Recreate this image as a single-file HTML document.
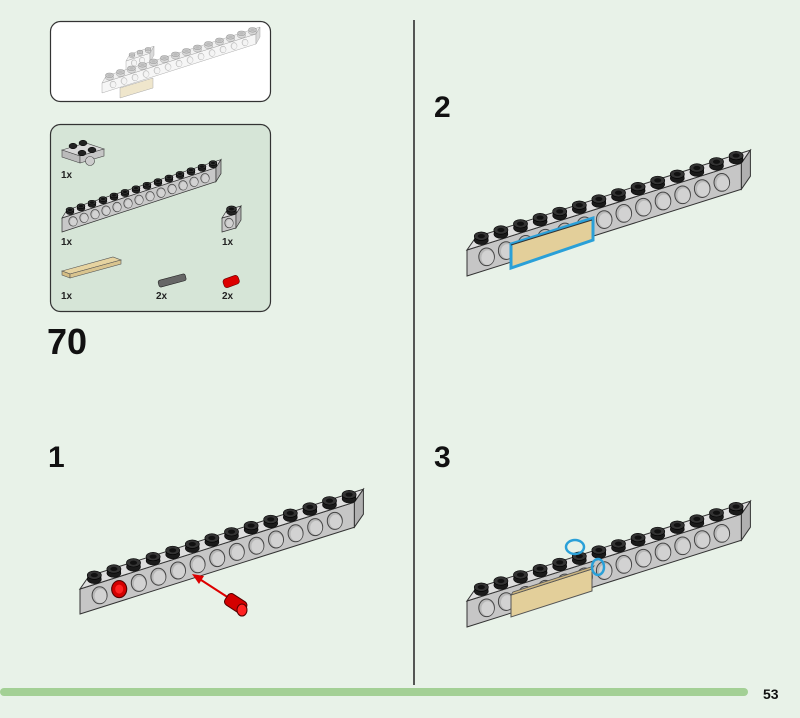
<!DOCTYPE html>
<html><head><meta charset="utf-8"><style>
body{margin:0;width:800px;height:718px;background:#e8f2e8;overflow:hidden;font-family:"Liberation Sans",sans-serif}
svg{position:absolute;left:0;top:0}
</style></head><body>
<svg id="s" width="800" height="718" viewBox="0 0 800 718" xmlns="http://www.w3.org/2000/svg">
<rect x="50.5" y="21.5" width="220" height="80" rx="10" fill="#fff" stroke="#333" stroke-width="1.2"/>
<rect x="50.5" y="124.5" width="220" height="187" rx="10" fill="#d6e5d7" stroke="#333" stroke-width="1.2"/>
<line x1="414" y1="20" x2="414" y2="685" stroke="#222" stroke-width="1.5"/>
<rect x="0" y="688" width="748" height="8" rx="4" fill="#a3d095"/>
<text x="763" y="699" font-size="14" font-weight="bold" fill="#111">53</text>
<text x="47" y="354" font-size="36" font-weight="bold" fill="#111">70</text>
<text x="48" y="467" font-size="30" font-weight="bold" fill="#111">1</text>
<text x="434" y="117" font-size="30" font-weight="bold" fill="#111">2</text>
<text x="434" y="467" font-size="30" font-weight="bold" fill="#111">3</text>
<g font-size="10" font-weight="bold" fill="#222">
<text x="61" y="178">1x</text><text x="61" y="245">1x</text><text x="222" y="245">1x</text>
<text x="61" y="299">1x</text><text x="156" y="299">2x</text><text x="222" y="299">2x</text>
</g>
<g id="g"></g>
</svg>
<script>
var g=document.getElementById('g'),o='';
function P(a){return a.map(function(p){return p[0].toFixed(1)+','+p[1].toFixed(1)}).join(' ')}
function beam(ox,oy,ux,uy,h,wx,wy,n,col,studc,sw,holes,light){
 var A=[ox,oy],B=[ox+n*ux,oy+n*uy],C=[B[0],B[1]-h],D=[ox,oy-h];
 var E=[C[0]+wx,C[1]+wy],F=[D[0]+wx,D[1]+wy],G=[B[0]+wx,B[1]+wy];
 var c=col||'#c8c8c8';
 var topc=light?'#f0f0f0':'#dedede',endc=light?'#dadada':'#b0b0b0',ln=light?'#999':'#333';
 var s1=light?'#c8c8c8':'#333',s2=light?'#bbb':'#111',se=light?'#999':'#000';
 o+='<polygon points="'+P([A,B,C,D])+'" fill="'+c+'" stroke="'+ln+'" stroke-width="'+sw+'"/>';
 o+='<polygon points="'+P([D,C,E,F])+'" fill="'+topc+'" stroke="'+ln+'" stroke-width="'+sw+'"/>';
 o+='<polygon points="'+P([B,G,E,C])+'" fill="'+endc+'" stroke="'+ln+'" stroke-width="'+sw+'"/>';
 var hs=holes===undefined?n-1:holes;
 for(var k=0;k<hs;k++){var x=ox+(k+(hs==n?0.5:1))*ux,y=oy+(k+(hs==n?0.5:1))*uy-h/2;
  o+='<ellipse cx="'+x+'" cy="'+y+'" rx="'+(h*0.3)+'" ry="'+(h*0.34)+'" fill="'+(light?'#e4e4e4':'#b8b8b8')+'" stroke="'+(light?'#999':'#444')+'" stroke-width="'+sw+'"/>';
  o+='<ellipse cx="'+(x+h*0.04)+'" cy="'+(y+h*0.03)+'" rx="'+(h*0.24)+'" ry="'+(h*0.28)+'" fill="'+(light?'#f4f4f4':'#d2d2d2')+'"/>';}
 for(var k=0;k<n;k++){var x=D[0]+(k+0.5)*ux+wx/2,y=D[1]+(k+0.5)*uy+wy/2,r=Math.abs(ux)*0.36;
  o+='<rect x="'+(x-r)+'" y="'+(y-r*0.6)+'" width="'+2*r+'" height="'+r*0.6+'" fill="'+studc+'"/>';
  o+='<ellipse cx="'+x+'" cy="'+y+'" rx="'+r+'" ry="'+r*0.6+'" fill="'+studc+'" stroke="'+se+'" stroke-width="0.5"/>';
  o+='<ellipse cx="'+x+'" cy="'+(y-r*0.6)+'" rx="'+r+'" ry="'+r*0.6+'" fill="'+s1+'" stroke="'+se+'" stroke-width="0.6"/>';
  o+='<ellipse cx="'+x+'" cy="'+(y-r*0.6)+'" rx="'+r*0.5+'" ry="'+r*0.3+'" fill="'+s2+'"/>';}
}
// top preview (white)
beam(126,70,8,-2.6,9,4,-7,3,'#f6f6f6','#d8d8d8',0.4,2,true);
beam(102,93,11,-3.5,10,4,-7,14,'#f6f6f6','#d8d8d8',0.4,13,true);
o+='<polygon points="120,88 153,78 153,88 120,98" fill="#efe6cc" stroke="#aaa" stroke-width="0.5"/>';
// parts
o+='<polygon points="62,150 86,143 104,149 80,156" fill="#d8d8d8" stroke="#444" stroke-width="0.6"/><polygon points="62,150 80,156 80,163 62,157" fill="#bbb" stroke="#444" stroke-width="0.6"/><polygon points="80,156 104,149 104,156 80,163" fill="#c6c6c6" stroke="#444" stroke-width="0.6"/><circle cx="90" cy="161" r="4.5" fill="#ccc" stroke="#444" stroke-width="0.6"/>';
[[73,146],[83,143],[82,153],[92,150]].forEach(function(p){o+='<ellipse cx="'+p[0]+'" cy="'+p[1]+'" rx="4" ry="2.8" fill="#222" stroke="#000" stroke-width="0.5"/>'});
beam(62,232,11,-3.6,14,5,-8,14,'#c8c8c8','#222',0.7);
beam(222,232,14,-4,14,5,-8,1,'#c8c8c8','#222',0.7,1);
o+='<polygon points="62,271 113,257 121,260 70,274" fill="#e6d3a0" stroke="#555" stroke-width="0.6"/><polygon points="62,271 70,274 70,278 62,275" fill="#d4bd84" stroke="#555" stroke-width="0.6"/><polygon points="70,274 121,260 121,264 70,278" fill="#d9c48f" stroke="#555" stroke-width="0.6"/>';
o+='<rect x="158" y="277" width="28" height="7" rx="2" transform="rotate(-15 172 280)" fill="#666" stroke="#222" stroke-width="0.6"/>';
o+='<rect x="223" y="277" width="16" height="9" rx="3" transform="rotate(-20 231 281)" fill="#d00" stroke="#600" stroke-width="0.6"/>';
// step 1
beam(80,614,19.6,-6.2,25,9,-13,14,'#c6c6c6','#1a1a1a',1);
var hx=80+2*19.6,hy=614-2*6.2-12.5;
o+='<ellipse cx="'+hx+'" cy="'+hy+'" rx="7.5" ry="8.5" fill="#d40000" stroke="#500"/><ellipse cx="'+hx+'" cy="'+hy+'" rx="4" ry="4.5" fill="#f22"/>';
o+='<line x1="232" y1="600" x2="198" y2="578" stroke="#d00" stroke-width="2"/><polygon points="192,574 204,576 199,584" fill="#d00"/>';
o+='<rect x="225" y="597" width="22" height="13" rx="4" transform="rotate(33 236 603)" fill="#d40000" stroke="#500"/><ellipse cx="242" cy="610" rx="5" ry="6" fill="#f22" stroke="#500"/>';
// step 2
beam(467,276,19.6,-6.2,26,9,-13,14,'#c6c6c6','#1a1a1a',1);
o+='<polygon points="511,244 593,218 593,240 511,268" fill="#e3cf9a" stroke="#2aa0d8" stroke-width="3"/><line x1="511" y1="245" x2="592" y2="220" stroke="#333" stroke-width="1"/>';
// step 3
beam(467,627,19.6,-6.2,26,9,-13,14,'#c6c6c6','#1a1a1a',1);
o+='<polygon points="511,595 592,569 592,591 511,617" fill="#e3cf9a" stroke="#555" stroke-width="1"/><polygon points="511,595 592,569 594,566 513,592" fill="#cdb680" stroke="#555" stroke-width="0.8"/>';
o+='<ellipse cx="575" cy="547" rx="9" ry="7" fill="none" stroke="#2aa0d8" stroke-width="2.5"/><ellipse cx="598" cy="567" rx="6" ry="8" fill="none" stroke="#2aa0d8" stroke-width="2.5"/>';
g.innerHTML=o;
</script>
</body></html>
